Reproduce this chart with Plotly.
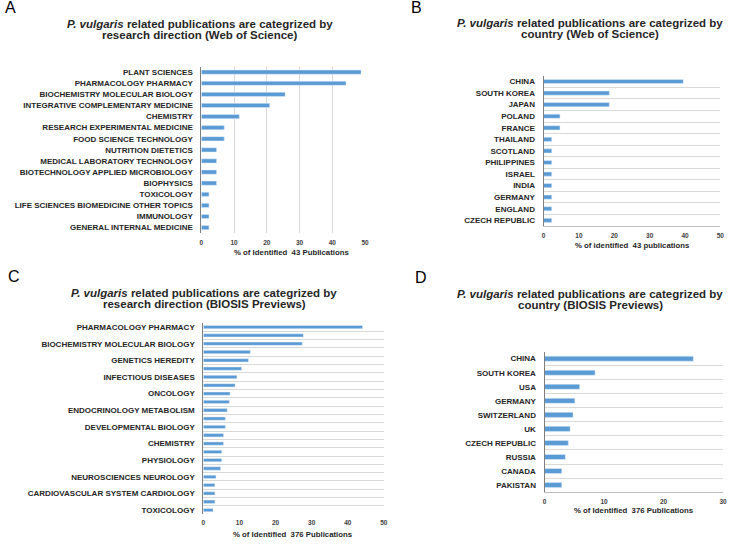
import plotly.graph_objects as go

# ---------------- data ----------------
cats_a = ["PLANT SCIENCES", "PHARMACOLOGY PHARMACY", "BIOCHEMISTRY MOLECULAR BIOLOGY",
          "INTEGRATIVE COMPLEMENTARY MEDICINE", "CHEMISTRY", "RESEARCH EXPERIMENTAL MEDICINE",
          "FOOD SCIENCE TECHNOLOGY", "NUTRITION DIETETICS", "MEDICAL LABORATORY TECHNOLOGY",
          "BIOTECHNOLOGY APPLIED MICROBIOLOGY", "BIOPHYSICS", "TOXICOLOGY",
          "LIFE SCIENCES BIOMEDICINE OTHER TOPICS", "IMMUNOLOGY", "GENERAL INTERNAL MEDICINE"]
vals_a = [48.8, 44.2, 25.6, 20.9, 11.6, 7.0, 7.0, 4.65, 4.65, 4.65, 4.65, 2.33, 2.33, 2.33, 2.33]

cats_b = ["CHINA", "SOUTH KOREA", "JAPAN", "POLAND", "FRANCE", "THAILAND", "SCOTLAND",
          "PHILIPPINES", "ISRAEL", "INDIA", "GERMANY", "ENGLAND", "CZECH REPUBLIC"]
vals_b = [39.5, 18.6, 18.6, 4.65, 4.65, 2.33, 2.33, 2.33, 2.33, 2.33, 2.33, 2.33, 2.33]

# panel C: 23 bars, only every other category is labelled in the original
vals_c = [44.1, 27.7, 27.4, 13.0, 12.5, 10.6, 9.3, 8.8, 7.4, 7.2, 6.6, 6.1, 6.1,
          5.6, 5.6, 5.1, 5.1, 4.8, 3.5, 3.2, 3.2, 3.2, 2.7]
labels_c = ["PHARMACOLOGY PHARMACY", "BIOCHEMISTRY MOLECULAR BIOLOGY", "GENETICS HEREDITY",
            "INFECTIOUS DISEASES", "ONCOLOGY", "ENDOCRINOLOGY METABOLISM",
            "DEVELOPMENTAL BIOLOGY", "CHEMISTRY", "PHYSIOLOGY", "NEUROSCIENCES NEUROLOGY",
            "CARDIOVASCULAR SYSTEM CARDIOLOGY", "TOXICOLOGY"]

cats_d = ["CHINA", "SOUTH KOREA", "USA", "GERMANY", "SWITZERLAND", "UK", "CZECH REPUBLIC",
          "RUSSIA", "CANADA", "PAKISTAN"]
vals_d = [25.0, 8.5, 5.9, 5.1, 4.8, 4.3, 4.0, 3.5, 2.9, 2.9]

ticks_ab = [0, 10, 20, 30, 40, 50]
ticks_c = [0, 10, 20, 30, 40, 50]
ticks_d = [0, 10, 20, 30]

# ---------------- style ----------------
W, H = 732, 544
BLUE = "#5B9BD5"
TXT = "#262626"
GRID = "#D9D9D9"
AXL = "#7F7F7F"
FONT = "Liberation Sans, Arial, sans-serif"

def dx(a, b):
    return [a / W, b / W]

def dy(top, bot):
    return [1 - bot / H, 1 - top / H]

fig = go.Figure()
fig.add_trace(go.Bar(x=vals_a, y=cats_a, orientation="h", marker_color=BLUE,
                     xaxis="x", yaxis="y", width=0.38, hoverinfo="x+y"))
fig.add_trace(go.Bar(x=vals_b, y=cats_b, orientation="h", marker_color=BLUE,
                     xaxis="x2", yaxis="y2", width=0.36, hoverinfo="x+y"))
fig.add_trace(go.Bar(x=vals_c, y=list(range(len(vals_c))), orientation="h", marker_color=BLUE,
                     xaxis="x3", yaxis="y3", width=0.4, hoverinfo="x"))
fig.add_trace(go.Bar(x=vals_d, y=cats_d, orientation="h", marker_color=BLUE,
                     xaxis="x4", yaxis="y4", width=0.36, hoverinfo="x+y"))

xtick_font = dict(family=FONT, size=6.5, color="#404040", weight="bold")
ytick_font = dict(family=FONT, size=8, color=TXT, weight="bold")

common_x = dict(tickmode="array", ticks="", zeroline=False, tickfont=xtick_font,
                fixedrange=True)
common_y = dict(ticks="", zeroline=False, tickfont=ytick_font, showline=True,
                linecolor=AXL, linewidth=1, fixedrange=True, ticklabelstandoff=6)

fig.update_layout(
    width=W, height=H, margin=dict(l=0, r=0, t=0, b=0),
    paper_bgcolor="white", plot_bgcolor="white", showlegend=False,
    bargap=0.6,
    xaxis=dict(domain=dx(201, 366), anchor="y", range=[0, 50], tickvals=ticks_ab,
               showgrid=True, gridcolor=GRID, showline=False, ticklabelstandoff=4, **common_x),
    yaxis=dict(domain=dy(66.7, 233.6), anchor="x", type="category",
               categoryorder="array", categoryarray=cats_a, autorange="reversed",
               showgrid=False, **common_y),
    xaxis2=dict(domain=dx(546, 724.3), anchor="y2", range=[0, 50], tickvals=ticks_ab,
                showgrid=False, showline=True, linecolor="#BFBFBF", ticklabelstandoff=3, **common_x),
    yaxis2=dict(domain=dy(75.9, 226.5), anchor="x2", type="category",
                categoryorder="array", categoryarray=cats_b, autorange="reversed",
                showgrid=True, gridcolor=GRID, tickson="boundaries", **common_y),
    xaxis3=dict(domain=dx(203, 385), anchor="y3", range=[0, 50], tickvals=ticks_c,
                showgrid=False, showline=False, ticklabelstandoff=3, **common_x),
    yaxis3=dict(domain=dy(323.5, 515.2), anchor="x3", range=[len(vals_c) - 0.5, -0.5],
                tickmode="array", tickvals=list(range(0, len(vals_c), 2)), ticktext=labels_c,
                showgrid=False,
                minor=dict(tickmode="array", tickvals=[i - 0.5 for i in range(len(vals_c) + 1)],
                           showgrid=True, gridcolor=GRID, ticks=""),
                **common_y),
    xaxis4=dict(domain=dx(547, 727), anchor="y4", range=[0, 30], tickvals=ticks_d,
                showgrid=False, showline=True, linecolor="#BFBFBF", ticklabelstandoff=3, **common_x),
    yaxis4=dict(domain=dy(352.3, 493), anchor="x4", type="category",
                categoryorder="array", categoryarray=cats_d, autorange="reversed",
                showgrid=True, gridcolor=GRID, tickson="boundaries", **common_y),
)

def ann(text, x, y, size, xanchor="center", bold=True, color=TXT):
    fig.add_annotation(text=text, x=x / W, y=1 - y / H, xref="paper", yref="paper",
                       xanchor=xanchor, yanchor="middle", showarrow=False, align="center",
                       font=dict(family=FONT, size=size, color=color,
                                 weight="bold" if bold else "normal"))

# panel letters
ann("A", 1, 7.5, 16, xanchor="left", bold=False, color="black")
ann("B", 410, 7.5, 16, xanchor="left", bold=False, color="black")
ann("C", 4, 277, 16, xanchor="left", bold=False, color="black")
ann("D", 414, 278, 16, xanchor="left", bold=False, color="black")

# titles (two lines each)
L1 = "<i>P. vulgaris</i> related publications are categrized by"
TS = 11.5
ann(L1, 200, 24, TS)
ann("research direction (Web of Science)", 200, 35.5, TS)
ann(L1, 592.5, 23, TS)
ann("country (Web of Science)", 592.5, 34.5, TS)
ann(L1, 204, 293.5, TS)
ann("research direction (BIOSIS Previews)", 204, 305, TS)
ann(L1, 593, 294.5, TS)
ann("country (BIOSIS Previews)", 593, 306, TS)

# axis titles
ann("% of Identified  43 Publications", 291.5, 252.7, 7.8)
ann("% of identified  43 publications", 635.5, 246, 7.8)
ann("% of Identified  376 Publications", 293, 535, 7.8)
ann("% of Identified  376 Publications", 637.3, 511.7, 7.8)

fig.write_html("out.html", config={"displayModeBar": False},
               post_script="document.body.style.margin='0px';")
